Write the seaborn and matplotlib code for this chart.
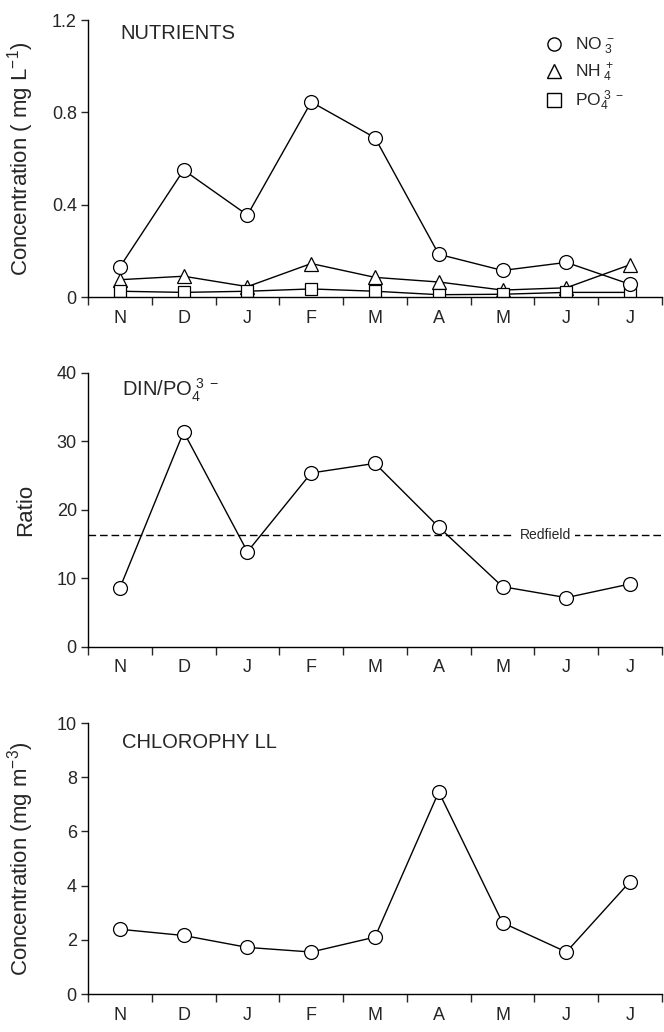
import matplotlib
matplotlib.use("Agg")
import matplotlib.pyplot as plt
import seaborn as sns
import pandas as pd
from matplotlib.lines import Line2D

sns.set_theme(style="ticks")
plt.rcParams['font.family'] = ['Liberation Sans', 'DejaVu Sans']
plt.rcParams['mathtext.fontset'] = 'custom'
plt.rcParams['mathtext.rm'] = 'Liberation Sans'
plt.rcParams['mathtext.it'] = 'Liberation Sans'

months = ["N", "D", "J", "F", "M", "A", "M", "J", "J"]
no3 = [0.13, 0.55, 0.355, 0.845, 0.69, 0.185, 0.115, 0.15, 0.055]
nh4 = [0.075, 0.09, 0.045, 0.145, 0.085, 0.065, 0.03, 0.04, 0.14]
po4 = [0.025, 0.02, 0.025, 0.035, 0.025, 0.01, 0.012, 0.02, 0.02]
ratio = [8.6, 31.4, 13.9, 25.4, 26.8, 17.5, 8.8, 7.2, 9.2]
redfield = 16.4
chl = [2.39, 2.16, 1.72, 1.55, 2.10, 7.46, 2.63, 1.55, 4.15]

pos = list(range(len(months)))

fig = plt.figure(figsize=(6.64, 10.32), dpi=100)
ax1 = fig.add_axes([0.1325, 0.7122, 0.8645, 0.2684])
ax2 = fig.add_axes([0.1325, 0.3731, 0.8645, 0.2655])
ax3 = fig.add_axes([0.1325, 0.0368, 0.8645, 0.2626])

mk = dict(markerfacecolor='white', markeredgecolor='black', markeredgewidth=0.9,
          color='black', linewidth=1.0)

def style(ax, ymax, yticks, yticklabels):
    ax.set_xlim(-0.5, 8.5)
    ax.set_ylim(0, ymax)
    ax.set_yticks(yticks)
    ax.set_yticklabels(yticklabels, fontsize=13)
    ax.set_xticks([p - 0.5 for p in pos] + [8.5])
    ax.set_xticklabels([])
    ax.set_xticks(pos, minor=True)
    ax.set_xticklabels(months, minor=True, fontsize=13)
    ax.tick_params(axis='x', which='minor', length=0, pad=9)
    ax.tick_params(axis='x', which='major', length=6, width=1, direction='out')
    ax.tick_params(axis='y', length=5, width=1, direction='out', pad=3)
    for s in ['top', 'right']:
        ax.spines[s].set_visible(False)
    for s in ['left', 'bottom']:
        ax.spines[s].set_linewidth(1.0)
        ax.spines[s].set_color('black')
    ax.set_xlabel('')

# Panel 1
df1 = pd.DataFrame({"x": pos, "no3": no3, "nh4": nh4, "po4": po4})
sns.lineplot(data=df1, x="x", y="no3", ax=ax1, marker='o', markersize=10, **mk, zorder=3)
sns.lineplot(data=df1, x="x", y="nh4", ax=ax1, marker='^', markersize=9.5, **mk, zorder=2)
sns.lineplot(data=df1, x="x", y="po4", ax=ax1, marker='s', markersize=8.5, **mk, zorder=2)
style(ax1, 1.2, [0, 0.4, 0.8, 1.2], ["0", "0.4", "0.8", "1.2"])
ax1.set_ylabel(r"Concentration ( mg L$^{\mathregular{-1}}$)", fontsize=16)
ax1.text(0.056, 0.985, "NUTRIENTS", transform=ax1.transAxes, fontsize=14.5, va='top', ha='left')
handles = [Line2D([], [], linestyle='none', marker='o', markersize=9.5, markerfacecolor='white', markeredgecolor='black'),
           Line2D([], [], linestyle='none', marker='^', markersize=9.5, markerfacecolor='white', markeredgecolor='black'),
           Line2D([], [], linestyle='none', marker='s', markersize=9.5, markerfacecolor='white', markeredgecolor='black')]
labels = [r"NO$_{\ 3}^{\ -}$", r"NH$_{\ 4}^{\ +}$", r"PO$_4^{\ 3\ -}$"]
ax1.legend(handles, labels, loc='upper right', bbox_to_anchor=(0.962, 1.0), frameon=False,
           fontsize=12.5, handlelength=1.0, handletextpad=0.7, labelspacing=0.3)

# Panel 2
df2 = pd.DataFrame({"x": pos, "ratio": ratio})
sns.lineplot(data=df2, x="x", y="ratio", ax=ax2, marker='o', markersize=10, **mk, zorder=3)
ax2.axhline(redfield, color='black', linestyle=(0, (5.5, 2.8)), linewidth=1.0, zorder=1)
ax2.text(6.67, redfield, "Redfield", fontsize=10, va='center', ha='center', zorder=2,
         bbox=dict(facecolor='white', edgecolor='none', pad=3))
style(ax2, 40, [0, 10, 20, 30, 40], ["0", "10", "20", "30", "40"])
ax2.set_ylabel("Ratio", fontsize=16)
ax2.text(0.06, 0.985, r"DIN/PO$_4^{\ 3\ -}$", transform=ax2.transAxes, fontsize=14.5, va='top', ha='left')

# Panel 3
df3 = pd.DataFrame({"x": pos, "chl": chl})
sns.lineplot(data=df3, x="x", y="chl", ax=ax3, marker='o', markersize=10, **mk, zorder=3)
style(ax3, 10, [0, 2, 4, 6, 8, 10], ["0", "2", "4", "6", "8", "10"])
ax3.set_ylabel(r"Concentration (mg m$^{\mathregular{-3}}$)", fontsize=16)
ax3.text(0.06, 0.965, "CHLOROPHY LL", transform=ax3.transAxes, fontsize=14.5, va='top', ha='left')

for ax in (ax1, ax2, ax3):
    ax.yaxis.set_label_coords(-0.09, 0.5)

fig.savefig("out.png", dpi=100)
